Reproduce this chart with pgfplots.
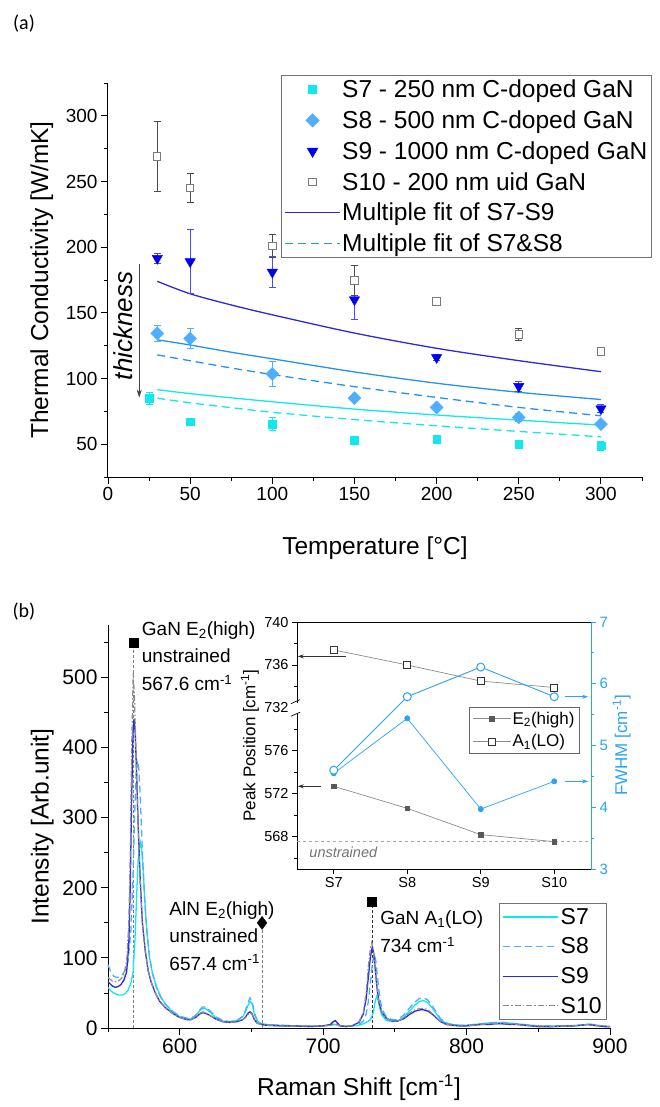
\documentclass[border=0pt]{standalone}
\usepackage{fontspec}
\setmainfont{Liberation Sans}
\newfontfamily\carlito{Carlito}
\usepackage{pgfplots}
\pgfplotsset{compat=1.18}
\usetikzlibrary{arrows.meta}
\definecolor{s7c}{HTML}{10E8EE}
\definecolor{s8c}{HTML}{4FAEFF}
\definecolor{s9c}{HTML}{0000F0}
\definecolor{s10c}{HTML}{7A7A7A}
\definecolor{darkb}{HTML}{2A2ADC}
\definecolor{fitb}{HTML}{2492F2}
\definecolor{fw}{HTML}{2AA4F4}
\pgfplotsset{
  longline/.style={legend image code/.code={\draw[##1] (0pt,0pt) -- (55pt,0pt);}},
  markleg/.style={legend image code/.code={\path[draw=none, fill=none] (0pt,0pt) -- (55pt,0pt); \draw[##1] plot coordinates {(27.5pt,0pt)};}},
  insetleg/.style={legend image code/.code={\draw[mark repeat=2, mark phase=2, ##1] plot coordinates {(0pt,0pt) (19pt,0pt) (38pt,0pt)};}},
  errs/.style={error bars/.cd, y dir=both, y explicit,
    error bar style={line width=0.8pt, #1},
    error mark options={rotate=90, mark size=3.5pt, line width=0.8pt, #1}},
}

\begin{document}
\begin{tikzpicture}
\path[use as bounding box] (0pt,0pt) rectangle (660pt,-1107pt);

\node[font=\carlito\fontsize{20}{20}\selectfont] at (24pt,-24pt) {(a)};
\node[font=\carlito\fontsize{20}{20}\selectfont] at (24pt,-612pt) {(b)};

% ---------- (a) thermal conductivity ----------
\begin{axis}[
  scale only axis, width=534pt, height=394pt,
  at={(108pt,-477pt)}, anchor=south west,
  xmin=0, xmax=325, ymin=25, ymax=325,
  axis x line*=bottom, axis y line*=left,
  axis line style={-, line width=1pt},
  tick align=outside,
  xtick={0,50,...,300}, minor xtick={25,75,...,325},
  ytick={50,100,...,300}, minor ytick={25,75,...,325},
  major tick length=7pt, minor tick length=4pt,
  tick style={black, line width=0.9pt},
  /pgf/number format/assume math mode=true,
  ticklabel style={font=\fontsize{19}{19}\selectfont},
  xlabel={Temperature [°C]},
  ylabel={Thermal Conductivity [W/mK]},
  label style={font=\fontsize{24.5}{26}\selectfont},
  xlabel style={at={(axis description cs:0.5,-0.18)}, anchor=center},
  ylabel style={at={(axis description cs:-0.124,0.5)}, anchor=center},
  clip=false,
  legend style={at={(0.324,1.02)}, anchor=north west, draw=black!55, line width=0.8pt,
    font=\fontsize{24.5}{26}\selectfont, row sep=8.5pt, inner sep=3pt,
    nodes={inner sep=1.5pt}},
  legend cell align=left,
]
% fits
\addplot[forget plot, darkb, line width=1.3pt, smooth] coordinates {
  (30,174) (50,164.5) (75,156) (100,148.5) (150,134.6) (200,123) (250,113.6) (300,105.2)};
\addplot[forget plot, fitb, line width=1.3pt, smooth] coordinates {
  (30,129.5) (50,125.5) (75,120) (100,115) (150,105) (200,96.4) (250,89.5) (300,84)};
\addplot[forget plot, fitb, line width=1.3pt, smooth, dash pattern=on 8pt off 5pt] coordinates {
  (30,118) (50,113.5) (75,108) (100,103) (150,93.8) (200,85.6) (250,78) (300,71.6)};
\addplot[forget plot, s7c, line width=1.3pt, smooth] coordinates {
  (30,91.5) (50,88.5) (75,85.3) (100,82.3) (150,76.7) (200,72.2) (250,68.3) (300,64.5)};
\addplot[forget plot, s7c, line width=1.3pt, smooth, dash pattern=on 8pt off 5pt] coordinates {
  (30,85) (50,81.5) (75,77.8) (100,74.3) (150,68.7) (200,64) (250,59.7) (300,55.6)};
% thickness arrow
\draw[-{Stealth[length=8pt,width=5pt]}, black!75, line width=0.8pt] (axis cs:19,187) -- (axis cs:19,85.5);
\node[rotate=90, font=\itshape\fontsize{26}{26}\selectfont] at (axis cs:9.3,140) {thickness};
% data
\addplot[forget plot, only marks, mark=square*, mark size=3.8pt, color=s7c, errs=s7c] coordinates {
  (25,85) +- (0,4.5) (50,67) +- (0,1.5) (100,65.3) +- (0,5) (150,53) +- (0,1.5)
  (200,53.8) +- (0,3) (250,50) +- (0,3) (300,48.7) +- (0,3.5)};
\addplot[forget plot, only marks, mark=square*, mark options={rotate=45}, mark size=4.6pt, color=s8c, errs=s8c] coordinates {
  (30,134.3) +- (0,6.2) (50,130.5) +- (0,7.5) (100,103.5) +- (0,9.5) (150,85) +- (0,1.5)
  (200,78) +- (0,1.5) (250,70.4) +- (0,3) (300,65.3) +- (0,1.5)};
\addplot[forget plot, only marks, mark=triangle*, mark options={rotate=180}, mark size=6pt, color=s9c, errs=s9c!70] coordinates {
  (30,191.5) +- (0,3.5) (50,189) +- (0,24.5) (100,181) +- (0,12) (150,160) +- (0,15)
  (200,116) +- (0,2) (250,94) +- (0,4) (300,77) +- (0,3)};
\addplot[forget plot, only marks, mark=square*, mark size=3.7pt, mark options={fill=white, draw=s10c, line width=1pt}, errs=black!70] coordinates {
  (30,269) +- (0,26.5) (50,245) +- (0,11) (100,201) +- (0,9) (150,174.5) +- (0,11.5)
  (200,158.7) +- (0,3) (250,133.5) +- (0,4.5) (300,120.5) +- (0,2)};
% legend
\addlegendimage{only marks, mark=square*, mark size=3.8pt, s7c, markleg}
\addlegendentry{S7 - 250 nm C-doped GaN}
\addlegendimage{only marks, mark=square*, mark options={rotate=45}, mark size=4.6pt, s8c, markleg}
\addlegendentry{S8 - 500 nm C-doped GaN}
\addlegendimage{only marks, mark=triangle*, mark options={rotate=180}, mark size=6pt, s9c, markleg}
\addlegendentry{S9 - 1000 nm C-doped GaN}
\addlegendimage{only marks, mark=square*, mark size=3.7pt, mark options={fill=white, draw=s10c, line width=1pt}, markleg}
\addlegendentry{S10 - 200 nm uid GaN}
\addlegendimage{draw=darkb, line width=1.3pt, longline}
\addlegendentry{Multiple fit of S7-S9}
\addlegendimage{draw=fitb, line width=1.3pt, dash pattern=on 8pt off 5pt, longline}
\addlegendentry{Multiple fit of S7\&S8}
\end{axis}

% ---------- (b) Raman spectra ----------
\begin{axis}[
  scale only axis, width=502pt, height=403pt,
  at={(108pt,-1028pt)}, anchor=south west,
  xmin=550, xmax=900, ymin=0, ymax=575,
  axis x line*=bottom, axis y line*=left,
  axis line style={-, line width=1pt},
  tick align=outside,
  xtick={600,700,800,900}, minor xtick={550,650,750,850},
  ytick={0,100,...,500}, minor ytick={50,150,...,550},
  major tick length=7pt, minor tick length=4pt,
  tick style={black, line width=0.9pt},
  /pgf/number format/assume math mode=true,
  ticklabel style={font=\fontsize{21}{21}\selectfont},
  xlabel={Raman Shift [cm\textsuperscript{-1}]},
  ylabel={Intensity [Arb.unit]},
  label style={font=\fontsize{24.5}{26}\selectfont},
  xlabel style={at={(axis description cs:0.5,-0.149)}, anchor=center},
  ylabel style={at={(axis description cs:-0.131,0.5)}, anchor=center},
  clip=false,
  legend style={at={(0.994,0.02)}, anchor=south east, draw=black!55, line width=0.8pt,
    font=\fontsize{23}{24}\selectfont, row sep=8pt, inner sep=3pt,
    nodes={inner sep=2pt}},
  legend cell align=left,
]
\addplot[forget plot, gray, densely dashed, line width=0.8pt] coordinates {(567.6,0) (567.6,550)};
\addplot[forget plot, gray, densely dashed, line width=0.8pt] coordinates {(657.4,0) (657.4,150)};
\addplot[forget plot, black!80, densely dashed, line width=0.7pt] coordinates {(734,0) (734,180)};

% S7
\addplot[s7c, line width=1.3pt, longline] coordinates {
(550,58) (552,53) (554,50) (556,48) (558,47) (560,47) (562,49) (564,54) (566,64)
(567.5,80) (568.8,126) (570,190) (571,240) (572.5,265) (573.5,255) (574.5,225)
(576,170) (577.5,130) (579,100) (581,78) (584,58) (587,44) (590,34) (595,23)
(600,16) (605,13) (608,13) (611,17) (614,25) (616,28) (618,28) (621,23) (625,15)
(630,10) (635,9) (640,11) (644,16) (646,24) (648,34) (649,38) (650.5,35) (652,20)
(654,10) (657,6) (660,5) (670,4) (680,3) (690,3) (700,3) (705,4) (708,5) (710,4)
(712,3) (716,3) (720,3) (725,4) (728,6) (731,9) (733,12) (735,22) (736,35)
(737.2,45) (738.3,40) (739.5,28) (741,18) (744,11) (748,9) (752,10) (756,15)
(760,24) (764,33) (767,38) (770,39) (773,36) (776,29) (779,20) (782,12) (786,7)
(790,5) (795,4) (800,4) (805,5) (810,6) (815,7) (820,8) (825,8) (830,7) (835,6)
(840,5) (845,4) (850,3) (860,3) (870,3) (880,4) (884,5) (888,5) (894,3) (900,2)};
\addlegendentry{S7}
% S8
\addplot[s8c, line width=1.3pt, dash pattern=on 7pt off 4pt, longline] coordinates {
(550,90) (552,80) (554,74) (556,72) (558,73) (560,76) (562,82) (564,95) (566,140)
(567.5,220) (568.5,300) (569.5,360) (570.6,382) (571.5,370) (572.5,330) (574,250)
(575.5,185) (577,140) (579,100) (581,78) (584,56) (587,43) (590,34) (595,24)
(600,17) (605,14) (608,14) (611,18) (614,26) (616,30) (618,30) (621,25) (625,16)
(630,11) (635,9) (640,11) (644,17) (646,26) (648,38) (649,43) (650.5,38) (652,22)
(654,11) (657,6) (660,5) (670,4) (680,3) (690,3) (700,3) (705,4) (708,5) (710,4)
(712,3) (716,3) (720,3) (725,5) (728,10) (730,20) (731.5,38) (733,65) (734.5,95)
(735.8,106) (736.8,95) (738,70) (739.5,44) (741,27) (744,16) (748,12) (752,12)
(756,18) (760,28) (764,37) (767,42) (770,43) (773,40) (776,32) (779,22) (782,13)
(786,7) (790,5) (795,4) (800,4) (805,5) (810,6) (815,7) (820,8) (825,8) (830,7)
(835,6) (840,5) (845,4) (850,3) (860,3) (870,3) (880,4) (884,6) (888,5) (894,3) (900,2)};
\addlegendentry{S8}
% S9
\addplot[darkb, line width=1.3pt, longline] coordinates {
(550,66) (553,60) (555,58) (557,59) (559,62) (561,68) (563,80) (564.5,120)
(565.5,200) (566.5,330) (567.5,425) (568.2,441) (569,420) (570,360) (571,292)
(572.5,210) (574,150) (576,110) (578,82) (580,66) (583,50) (586,38) (590,29)
(595,21) (600,15) (605,12) (608,12) (611,15) (614,20) (616,22) (618,21) (621,18)
(625,13) (630,9) (635,8) (640,9) (644,12) (646,16) (648,22) (649,23) (650.5,20)
(652,12) (654,7) (657,5) (660,4) (670,3) (680,3) (690,2) (700,3) (705,5) (707,9)
(708.5,10.5) (710,7) (712,3) (716,2) (720,3) (725,8) (728,20) (730,42) (731.5,72)
(733,102) (734.3,116) (735.3,106) (736.3,85) (737.5,58) (739,36) (741,22) (744,14)
(748,10) (752,10) (756,13) (760,19) (764,24) (768,26) (770,26) (773,24) (776,20)
(779,14) (782,9) (786,5) (790,4) (795,3) (800,3) (805,4) (810,5) (815,5) (820,6)
(825,6) (830,5) (835,5) (840,4) (845,3) (850,2) (860,2) (870,3) (875,3) (880,4)
(884,5) (888,4) (892,3) (896,2) (900,2)};
\addlegendentry{S9}
% S10
\addplot[s10c!85, line width=1.2pt, dash pattern=on 6pt off 2pt on 1.5pt off 2pt, longline] coordinates {
(550,72) (553,67) (555,66) (557,67) (559,70) (561,76) (563,95) (564.5,150)
(565.5,250) (566.5,400) (567.6,507) (568.5,470) (569.5,390) (571,290) (572.5,205)
(574,148) (576,108) (578,82) (580,66) (583,50) (586,38) (590,29) (595,21) (600,15)
(605,12) (608,12) (611,15) (614,21) (616,23) (618,22) (621,18) (625,13) (630,9)
(635,8) (640,9) (644,12) (646,15) (648,20) (649,22) (650.5,19) (652,12) (654,7)
(657,5) (660,4) (670,3) (680,3) (690,3) (700,3) (705,4) (708,6) (710,5) (712,3)
(716,3) (720,3) (725,9) (728,22) (730,50) (731.5,88) (733,115) (733.9,122)
(735,110) (736,88) (737.5,58) (739,36) (741,22) (744,14) (748,10) (752,10)
(756,14) (760,21) (764,26) (768,28) (770,28) (773,26) (776,21) (779,15) (782,9)
(786,5) (790,4) (795,3) (800,3) (805,4) (810,5) (815,6) (820,6) (825,6) (830,6)
(835,5) (840,4) (845,3) (850,3) (860,2) (870,3) (880,4) (884,5) (888,4) (894,3) (900,2)};
\addlegendentry{S10}

% peak markers
\addplot[forget plot, only marks, mark=square*, mark size=4.5pt, black] coordinates {(567.6,550) (734,180)};
\addplot[forget plot, only marks, mark=diamond*, mark size=6.5pt, black] coordinates {(657.4,150)};
\node[anchor=north west, align=left, inner sep=0pt, font=\fontsize{19}{27.5}\selectfont]
  at (axis cs:573.5,580) {GaN E\textsubscript{2}(high)\\unstrained\\567.6 cm\textsuperscript{-1}};
\node[anchor=north west, align=left, inner sep=0pt, font=\fontsize{19}{27.5}\selectfont]
  at (axis cs:592.7,181) {AlN E\textsubscript{2}(high)\\unstrained\\657.4 cm\textsuperscript{-1}};
\node[anchor=north west, align=left, inner sep=0pt, font=\fontsize{19}{28.5}\selectfont]
  at (axis cs:739.7,168) {GaN A\textsubscript{1}(LO)\\734 cm\textsuperscript{-1}};
\end{axis}

% ---------- inset: peak positions ----------
\begin{axis}[
  scale only axis, width=294pt, height=247pt,
  at={(297pt,-869pt)}, anchor=south west,
  xmin=-0.5, xmax=3.5, ymin=565, ymax=588,
  axis background/.style={fill=white},
  axis x line*=box, axis y line*=left,
  axis line style={-, line width=0.9pt},
  tick align=outside, xtick pos=bottom,
  xtick={0,1,2,3}, xticklabels={S7,S8,S9,S10},
  ytick={568,572,576,580,584,588}, yticklabels={568,572,576,732,736,740},
  minor ytick={566,570,574,578,582,586},
  major tick length=5pt, minor tick length=3pt,
  tick style={black, line width=0.8pt},
  ticklabel style={font=\fontsize{14.5}{14.5}\selectfont},
  ylabel={Peak Position [cm\textsuperscript{-1}]},
  ylabel style={font=\fontsize{17}{18}\selectfont, at={(axis description cs:-0.16,0.5)}, anchor=center},
  clip=false,
  legend style={at={(0.585,0.656)}, anchor=north west, draw=black!60, line width=0.7pt,
    font=\fontsize{17}{18}\selectfont, row sep=6pt, inner sep=3pt, nodes={inner sep=1.5pt}},
  legend cell align=left,
]
\addplot[forget plot, gray!70, dashed, line width=0.7pt] coordinates {(-0.5,567.6) (3.5,567.6)};
\node[font=\itshape\fontsize{14.5}{14.5}\selectfont, text=black!55] at (axis cs:0.13,566.6) {unstrained};
\addplot[black!45, line width=0.7pt, mark=square*, mark size=2.4pt, mark options={fill=black!65, draw=black!65}, insetleg] table[x=x, y=y] {
x y
0 572.7
1 570.65
2 568.2
3 567.55
};
\addplot[black!45, line width=0.7pt, mark=square*, mark size=3.4pt, mark options={fill=white, draw=black!80, line width=0.8pt}, insetleg] table[x=x, y expr=\thisrow{y}-152] {
x y
0 737.4
1 736.0
2 734.5
3 733.9
};
% axis break
\fill[white] ([xshift=-6pt]axis cs:-0.5,579.5) rectangle ([xshift=2pt]axis cs:-0.5,580.5);
\draw[line width=0.7pt] ([xshift=-6pt,yshift=-4pt]axis cs:-0.5,579.6) -- ([xshift=3pt,yshift=0pt]axis cs:-0.5,579.6);
\draw[line width=0.7pt] ([xshift=-6pt,yshift=0pt]axis cs:-0.5,580.4) -- ([xshift=3pt,yshift=4pt]axis cs:-0.5,580.4);
% arrows to left axis
\draw[-{Stealth[length=6pt,width=4pt]}, black!80, line width=0.6pt] (axis cs:0.17,584.8) -- (axis cs:-0.49,584.8);
\draw[-{Stealth[length=6pt,width=4pt]}, black!80, line width=0.6pt] (axis cs:-0.18,572.7) -- (axis cs:-0.49,572.7);
\legend{E\textsubscript{2}(high), A\textsubscript{1}(LO)}
\end{axis}

\begin{axis}[
  scale only axis, width=294pt, height=247pt,
  at={(297pt,-869pt)}, anchor=south west,
  xmin=-0.5, xmax=3.5, ymin=3, ymax=7,
  axis x line=none, axis y line*=right,
  axis line style={-, fw, line width=0.9pt},
  tick align=outside,
  ytick={3,4,5,6,7}, minor ytick={3.5,4.5,5.5,6.5},
  major tick length=5pt, minor tick length=3pt,
  tick style={fw, line width=0.8pt},
  /pgf/number format/assume math mode=true,
  yticklabel style={font=\fontsize{15}{15}\selectfont, text=fw},
  ylabel={FWHM [cm\textsuperscript{-1}]},
  ylabel style={font=\fontsize{17}{18}\selectfont, text=fw, at={(axis description cs:1.104,0.5)}, anchor=center},
  clip=false,
]
\addplot[fw, line width=0.7pt, mark=*, mark size=2.6pt] table[x=x, y=y] {
x y
0 4.55
1 5.44
2 3.97
3 4.42
};
\addplot[fw, line width=0.9pt, mark=*, mark size=4pt, mark options={fill=white, draw=fw, line width=1pt}] table[x=x, y=y] {
x y
0 4.6
1 5.79
2 6.27
3 5.79
};
\draw[-{Stealth[length=6pt,width=4pt]}, fw, line width=0.6pt] (axis cs:3.14,5.79) -- (axis cs:3.46,5.79);
\draw[-{Stealth[length=6pt,width=4pt]}, fw, line width=0.6pt] (axis cs:3.14,4.42) -- (axis cs:3.46,4.42);
\end{axis}
\end{tikzpicture}
\end{document}
